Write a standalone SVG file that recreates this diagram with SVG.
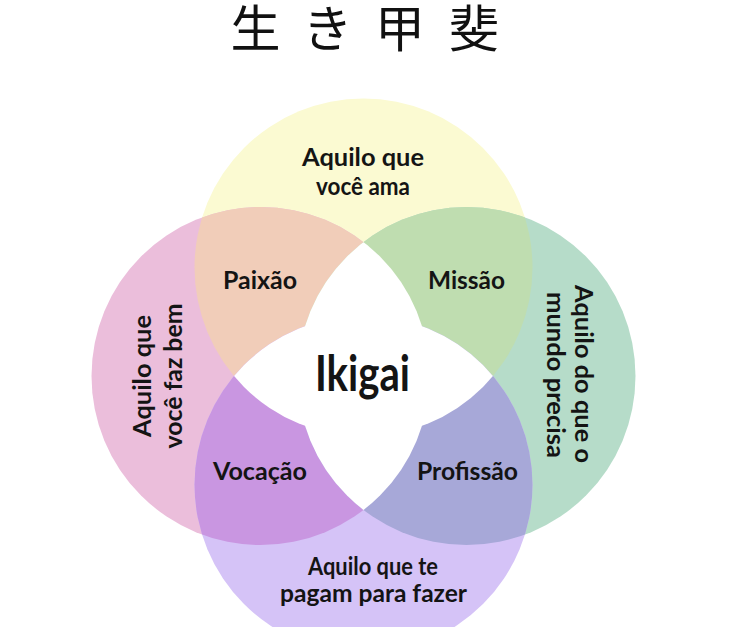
<svg xmlns="http://www.w3.org/2000/svg" width="736" height="627" viewBox="0 0 736 627">
<style>
.lbl{font-family:Lato,"Liberation Sans",sans-serif;font-weight:700;fill:#141414;text-anchor:middle}
.s25{font-size:25px}
.title{font-family:"Noto Sans CJK JP",sans-serif;font-weight:400;font-size:50px;fill:#111;text-anchor:middle}
</style>
<defs>
<clipPath id="cY"><circle cx="363.5" cy="267.4" r="169"/></clipPath>
<clipPath id="cP"><circle cx="260.5" cy="376" r="169"/></clipPath>
<clipPath id="cG"><circle cx="466.5" cy="376" r="169"/></clipPath>
<clipPath id="cB"><circle cx="363.5" cy="484.6" r="169"/></clipPath>
</defs>
<rect width="736" height="627" fill="#ffffff"/>
<g id="title">
<text class="title" x="255.5" y="47">生</text>
<text class="title" x="327.5" y="47">き</text>
<text class="title" x="400" y="47">甲</text>
<text class="title" x="474" y="47">斐</text>
</g>
<g id="circle-ama"><circle cx="363.5" cy="267.4" r="169" fill="#fbfad2"/></g>
<g id="circle-bem"><circle cx="260.5" cy="376" r="169" fill="#ebbedb"/></g>
<g id="circle-mundo"><circle cx="466.5" cy="376" r="169" fill="#b6dcc9"/></g>
<g id="circle-pagam"><circle cx="363.5" cy="484.6" r="169" fill="#d5c3f7"/></g>
<g id="paixao"><circle cx="260.5" cy="376" r="169" fill="#f1cdb9" clip-path="url(#cY)"/></g>
<g id="missao"><circle cx="466.5" cy="376" r="169" fill="#bfddb0" clip-path="url(#cY)"/></g>
<g id="vocacao"><circle cx="260.5" cy="376" r="169" fill="#c996e1" clip-path="url(#cB)"/></g>
<g id="profissao"><circle cx="466.5" cy="376" r="169" fill="#a7a8d8" clip-path="url(#cB)"/></g>
<g id="ikigai">
<circle cx="363.5" cy="484.6" r="169" fill="#ffffff" clip-path="url(#cY)"/>
<circle cx="466.5" cy="376" r="169" fill="#ffffff" clip-path="url(#cP)"/>
</g>
<g id="connectors"/>
<g id="labels">
<text class="lbl s25" x="363" y="166" textLength="122" lengthAdjust="spacingAndGlyphs">Aquilo que</text>
<text class="lbl s25" x="363" y="195" textLength="94" lengthAdjust="spacingAndGlyphs">você ama</text>
<text class="lbl s25" x="260" y="289" textLength="74" lengthAdjust="spacingAndGlyphs">Paixão</text>
<text class="lbl s25" x="466.5" y="289" textLength="77" lengthAdjust="spacingAndGlyphs">Missão</text>
<text class="lbl" style="font-size:50px" x="362.5" y="391" textLength="95" lengthAdjust="spacingAndGlyphs">Ikigai</text>
<text class="lbl s25" x="260" y="480" textLength="94" lengthAdjust="spacingAndGlyphs">Vocação</text>
<text class="lbl s25" x="467.5" y="480" textLength="101" lengthAdjust="spacingAndGlyphs">Profissão</text>
<text class="lbl s25" x="373" y="575" textLength="130" lengthAdjust="spacingAndGlyphs">Aquilo que te</text>
<text class="lbl s25" x="373.5" y="602" textLength="187" lengthAdjust="spacingAndGlyphs">pagam para fazer</text>
<g transform="translate(151,376) rotate(-90)">
<text class="lbl s25" x="0" y="0" textLength="122" lengthAdjust="spacingAndGlyphs">Aquilo que</text>
<text class="lbl s25" x="0" y="31" textLength="145" lengthAdjust="spacingAndGlyphs">você faz bem</text>
</g>
<g transform="translate(575,374) rotate(90)">
<text class="lbl s25" x="0" y="0" textLength="178" lengthAdjust="spacingAndGlyphs">Aquilo do que o</text>
<text class="lbl s25" x="1" y="28" textLength="166" lengthAdjust="spacingAndGlyphs">mundo precisa</text>
</g>
</g>
</svg>
